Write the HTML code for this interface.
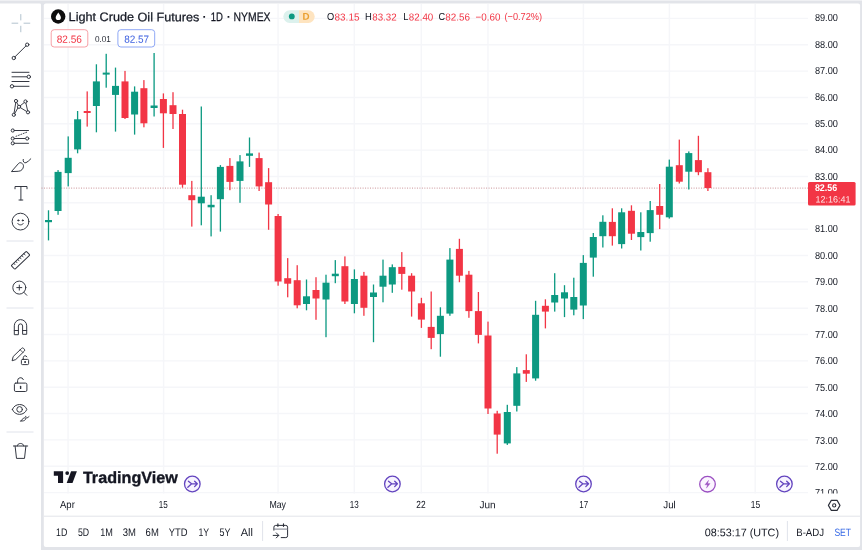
<!DOCTYPE html><html><head><meta charset="utf-8"><title>Light Crude Oil Futures</title>
<style>html,body{margin:0;padding:0;background:#e2e4e9;}body{width:862px;height:550px;overflow:hidden;}svg{display:block;}text{font-family:"Liberation Sans",sans-serif;text-rendering:geometricPrecision;}</style></head><body>
<svg width="862" height="550" viewBox="0 0 862 550">
<defs><filter id="soft" filterUnits="userSpaceOnUse" x="-10" y="-10" width="882" height="570"><feGaussianBlur stdDeviation="0.32"/></filter></defs>
<g filter="url(#soft)">
<rect x="-10" y="-10" width="882" height="570" fill="#e2e4e9"/>
<rect x="-10" y="-10" width="882" height="11" fill="#eff0f3"/><path d="M-10 3.6H39.8a1.2 1.2 0 0 1 1.2 1.2V560H-10Z" fill="#fff"/>
<rect x="43.8" y="3.6" width="816.3" height="543.3" rx="2" fill="#fff"/>
<g stroke="#f5f6f9" stroke-width="1.4">
<line x1="44" x2="808" y1="492.6" y2="492.6"/>
<line x1="44" x2="808" y1="466.2" y2="466.2"/>
<line x1="44" x2="808" y1="439.9" y2="439.9"/>
<line x1="44" x2="808" y1="413.5" y2="413.5"/>
<line x1="44" x2="808" y1="387.2" y2="387.2"/>
<line x1="44" x2="808" y1="360.9" y2="360.9"/>
<line x1="44" x2="808" y1="334.5" y2="334.5"/>
<line x1="44" x2="808" y1="308.2" y2="308.2"/>
<line x1="44" x2="808" y1="281.8" y2="281.8"/>
<line x1="44" x2="808" y1="255.5" y2="255.5"/>
<line x1="44" x2="808" y1="229.2" y2="229.2"/>
<line x1="44" x2="808" y1="202.8" y2="202.8"/>
<line x1="44" x2="808" y1="176.5" y2="176.5"/>
<line x1="44" x2="808" y1="150.1" y2="150.1"/>
<line x1="44" x2="808" y1="123.8" y2="123.8"/>
<line x1="44" x2="808" y1="97.5" y2="97.5"/>
<line x1="44" x2="808" y1="71.1" y2="71.1"/>
<line x1="44" x2="808" y1="44.8" y2="44.8"/>
<line x1="44" x2="808" y1="18.4" y2="18.4"/>
<line x1="68.1" x2="68.1" y1="4" y2="493.5"/>
<line x1="163.6" x2="163.6" y1="4" y2="493.5"/>
<line x1="278.1" x2="278.1" y1="4" y2="493.5"/>
<line x1="354.3" x2="354.3" y1="4" y2="493.5"/>
<line x1="421.3" x2="421.3" y1="4" y2="493.5"/>
<line x1="488.0" x2="488.0" y1="4" y2="493.5"/>
<line x1="583.4" x2="583.4" y1="4" y2="493.5"/>
<line x1="669.4" x2="669.4" y1="4" y2="493.5"/>
<line x1="755.2" x2="755.2" y1="4" y2="493.5"/>
</g>
<line x1="44" x2="860" y1="516.2" y2="516.2" stroke="#e2e4e9" stroke-width="1"/>
<line x1="41.5" x2="808" y1="188.1" y2="188.1" stroke="#c4868c" stroke-width="1" stroke-dasharray="1 1.47" opacity="0.9"/>
<g>
<rect x="47.85" y="210.3" width="1.3" height="30.1" fill="#089981"/>
<rect x="45.00" y="220.0" width="7" height="2.2" fill="#089981"/>
<rect x="57.41" y="170.1" width="1.3" height="44.7" fill="#089981"/>
<rect x="54.56" y="171.9" width="7" height="39.1" fill="#089981"/>
<rect x="67.55" y="136.4" width="1.3" height="50.0" fill="#089981"/>
<rect x="64.70" y="157.8" width="7" height="15.3" fill="#089981"/>
<rect x="76.95" y="111.0" width="1.3" height="42.3" fill="#089981"/>
<rect x="74.10" y="119.3" width="7" height="30.1" fill="#089981"/>
<rect x="86.55" y="91.4" width="1.3" height="35.2" fill="#f23645"/>
<rect x="83.70" y="111.0" width="7" height="2.0" fill="#f23645"/>
<rect x="95.75" y="64.3" width="1.3" height="68.0" fill="#089981"/>
<rect x="92.90" y="81.4" width="7" height="24.6" fill="#089981"/>
<rect x="105.55" y="53.8" width="1.3" height="33.9" fill="#089981"/>
<rect x="102.70" y="72.6" width="7" height="2.0" fill="#089981"/>
<rect x="114.85" y="67.6" width="1.3" height="64.0" fill="#089981"/>
<rect x="112.00" y="85.9" width="7" height="9.0" fill="#089981"/>
<rect x="124.35" y="70.9" width="1.3" height="48.1" fill="#f23645"/>
<rect x="121.50" y="81.4" width="7" height="36.6" fill="#f23645"/>
<rect x="133.95" y="86.4" width="1.3" height="48.2" fill="#089981"/>
<rect x="131.10" y="91.7" width="7" height="22.8" fill="#089981"/>
<rect x="143.25" y="80.1" width="1.3" height="47.2" fill="#f23645"/>
<rect x="140.40" y="88.2" width="7" height="35.1" fill="#f23645"/>
<rect x="153.45" y="53.0" width="1.3" height="63.5" fill="#089981"/>
<rect x="150.60" y="105.5" width="7" height="2.5" fill="#089981"/>
<rect x="162.75" y="93.4" width="1.3" height="54.5" fill="#f23645"/>
<rect x="159.90" y="99.0" width="7" height="14.3" fill="#f23645"/>
<rect x="172.35" y="92.2" width="1.3" height="36.8" fill="#f23645"/>
<rect x="169.50" y="105.2" width="7" height="8.8" fill="#f23645"/>
<rect x="181.85" y="109.7" width="1.3" height="78.0" fill="#f23645"/>
<rect x="179.00" y="114.0" width="7" height="70.7" fill="#f23645"/>
<rect x="191.15" y="180.9" width="1.3" height="45.7" fill="#f23645"/>
<rect x="188.30" y="195.2" width="7" height="5.0" fill="#f23645"/>
<rect x="200.65" y="106.5" width="1.3" height="118.8" fill="#089981"/>
<rect x="197.80" y="196.7" width="7" height="6.6" fill="#089981"/>
<rect x="210.45" y="195.2" width="1.3" height="41.2" fill="#089981"/>
<rect x="207.60" y="204.8" width="7" height="2.5" fill="#089981"/>
<rect x="219.75" y="165.1" width="1.3" height="66.5" fill="#089981"/>
<rect x="216.90" y="166.9" width="7" height="32.3" fill="#089981"/>
<rect x="229.25" y="158.1" width="1.3" height="32.1" fill="#f23645"/>
<rect x="226.40" y="165.9" width="7" height="16.0" fill="#f23645"/>
<rect x="239.35" y="155.1" width="1.3" height="47.7" fill="#089981"/>
<rect x="236.50" y="161.4" width="7" height="19.5" fill="#089981"/>
<rect x="248.85" y="137.5" width="1.3" height="29.4" fill="#089981"/>
<rect x="246.00" y="153.4" width="7" height="2.4" fill="#089981"/>
<rect x="258.45" y="152.6" width="1.3" height="38.4" fill="#f23645"/>
<rect x="255.60" y="158.1" width="7" height="28.3" fill="#f23645"/>
<rect x="267.95" y="168.1" width="1.3" height="61.7" fill="#f23645"/>
<rect x="265.10" y="182.2" width="7" height="22.3" fill="#f23645"/>
<rect x="277.45" y="214.0" width="1.3" height="71.7" fill="#f23645"/>
<rect x="274.60" y="216.0" width="7" height="65.5" fill="#f23645"/>
<rect x="287.05" y="258.1" width="1.3" height="39.2" fill="#f23645"/>
<rect x="284.20" y="278.2" width="7" height="5.5" fill="#f23645"/>
<rect x="296.55" y="265.2" width="1.3" height="43.1" fill="#f23645"/>
<rect x="293.70" y="280.2" width="7" height="25.1" fill="#f23645"/>
<rect x="305.85" y="279.5" width="1.3" height="30.8" fill="#089981"/>
<rect x="303.00" y="296.3" width="7" height="7.7" fill="#089981"/>
<rect x="315.35" y="277.2" width="1.3" height="42.6" fill="#f23645"/>
<rect x="312.50" y="290.0" width="7" height="8.5" fill="#f23645"/>
<rect x="325.35" y="274.7" width="1.3" height="62.5" fill="#089981"/>
<rect x="322.50" y="282.7" width="7" height="16.8" fill="#089981"/>
<rect x="334.65" y="260.1" width="1.3" height="23.1" fill="#089981"/>
<rect x="331.80" y="273.7" width="7" height="2.5" fill="#089981"/>
<rect x="344.25" y="256.4" width="1.3" height="47.6" fill="#f23645"/>
<rect x="341.40" y="266.2" width="7" height="35.3" fill="#f23645"/>
<rect x="353.75" y="269.4" width="1.3" height="43.9" fill="#089981"/>
<rect x="350.90" y="279.0" width="7" height="25.0" fill="#089981"/>
<rect x="363.25" y="271.9" width="1.3" height="43.9" fill="#f23645"/>
<rect x="360.40" y="275.7" width="7" height="32.1" fill="#f23645"/>
<rect x="372.85" y="284.5" width="1.3" height="57.7" fill="#089981"/>
<rect x="370.00" y="292.5" width="7" height="4.5" fill="#089981"/>
<rect x="382.35" y="259.6" width="1.3" height="42.7" fill="#089981"/>
<rect x="379.50" y="275.7" width="7" height="11.0" fill="#089981"/>
<rect x="391.65" y="264.4" width="1.3" height="28.4" fill="#089981"/>
<rect x="388.80" y="267.2" width="7" height="17.3" fill="#089981"/>
<rect x="401.15" y="252.1" width="1.3" height="37.6" fill="#f23645"/>
<rect x="398.30" y="266.9" width="7" height="7.0" fill="#f23645"/>
<rect x="410.95" y="273.2" width="1.3" height="43.4" fill="#f23645"/>
<rect x="408.10" y="275.7" width="7" height="15.8" fill="#f23645"/>
<rect x="420.75" y="297.8" width="1.3" height="30.1" fill="#f23645"/>
<rect x="417.90" y="303.3" width="7" height="16.3" fill="#f23645"/>
<rect x="430.55" y="291.5" width="1.3" height="57.7" fill="#f23645"/>
<rect x="427.70" y="326.9" width="7" height="11.0" fill="#f23645"/>
<rect x="439.75" y="307.3" width="1.3" height="49.4" fill="#089981"/>
<rect x="436.90" y="315.8" width="7" height="18.3" fill="#089981"/>
<rect x="449.25" y="248.1" width="1.3" height="67.7" fill="#089981"/>
<rect x="446.40" y="259.6" width="7" height="54.0" fill="#089981"/>
<rect x="458.75" y="238.8" width="1.3" height="43.4" fill="#f23645"/>
<rect x="455.90" y="248.9" width="7" height="26.8" fill="#f23645"/>
<rect x="468.25" y="270.9" width="1.3" height="46.9" fill="#f23645"/>
<rect x="465.40" y="274.7" width="7" height="36.4" fill="#f23645"/>
<rect x="477.75" y="292.0" width="1.3" height="51.4" fill="#f23645"/>
<rect x="474.90" y="311.1" width="7" height="23.8" fill="#f23645"/>
<rect x="487.35" y="321.6" width="1.3" height="92.4" fill="#f23645"/>
<rect x="484.50" y="335.5" width="7" height="73.0" fill="#f23645"/>
<rect x="496.55" y="410.8" width="1.3" height="42.9" fill="#f23645"/>
<rect x="493.70" y="413.5" width="7" height="21.1" fill="#f23645"/>
<rect x="506.65" y="404.8" width="1.3" height="40.1" fill="#089981"/>
<rect x="503.80" y="412.0" width="7" height="31.4" fill="#089981"/>
<rect x="516.15" y="367.1" width="1.3" height="44.4" fill="#089981"/>
<rect x="513.30" y="373.4" width="7" height="32.4" fill="#089981"/>
<rect x="525.65" y="354.3" width="1.3" height="27.6" fill="#f23645"/>
<rect x="522.80" y="370.1" width="7" height="3.6" fill="#f23645"/>
<rect x="534.95" y="300.8" width="1.3" height="79.9" fill="#089981"/>
<rect x="532.10" y="314.8" width="7" height="63.6" fill="#089981"/>
<rect x="544.75" y="299.3" width="1.3" height="29.1" fill="#f23645"/>
<rect x="541.90" y="305.8" width="7" height="5.8" fill="#f23645"/>
<rect x="554.05" y="273.2" width="1.3" height="38.4" fill="#089981"/>
<rect x="551.20" y="295.0" width="7" height="7.5" fill="#089981"/>
<rect x="563.85" y="285.2" width="1.3" height="31.9" fill="#089981"/>
<rect x="561.00" y="292.3" width="7" height="6.2" fill="#089981"/>
<rect x="573.15" y="277.7" width="1.3" height="37.6" fill="#089981"/>
<rect x="570.30" y="297.0" width="7" height="12.6" fill="#089981"/>
<rect x="582.65" y="255.1" width="1.3" height="64.0" fill="#089981"/>
<rect x="579.80" y="262.9" width="7" height="42.6" fill="#089981"/>
<rect x="592.65" y="233.0" width="1.3" height="43.7" fill="#089981"/>
<rect x="589.80" y="237.0" width="7" height="20.6" fill="#089981"/>
<rect x="602.20" y="215.3" width="1.3" height="32.2" fill="#089981"/>
<rect x="599.35" y="221.8" width="7" height="14.4" fill="#089981"/>
<rect x="611.70" y="208.3" width="1.3" height="37.3" fill="#f23645"/>
<rect x="608.85" y="221.9" width="7" height="14.3" fill="#f23645"/>
<rect x="621.00" y="208.3" width="1.3" height="40.2" fill="#089981"/>
<rect x="618.15" y="212.3" width="7" height="31.8" fill="#089981"/>
<rect x="630.80" y="205.3" width="1.3" height="34.7" fill="#f23645"/>
<rect x="627.95" y="210.8" width="7" height="22.9" fill="#f23645"/>
<rect x="640.15" y="212.3" width="1.3" height="38.2" fill="#089981"/>
<rect x="637.30" y="232.0" width="7" height="5.1" fill="#089981"/>
<rect x="649.55" y="201.0" width="1.3" height="40.7" fill="#089981"/>
<rect x="646.70" y="210.1" width="7" height="23.0" fill="#089981"/>
<rect x="659.05" y="184.0" width="1.3" height="45.1" fill="#f23645"/>
<rect x="656.20" y="206.0" width="7" height="8.8" fill="#f23645"/>
<rect x="668.65" y="159.6" width="1.3" height="59.0" fill="#089981"/>
<rect x="665.80" y="166.7" width="7" height="50.6" fill="#089981"/>
<rect x="678.65" y="139.6" width="1.3" height="43.9" fill="#f23645"/>
<rect x="675.80" y="165.2" width="7" height="16.5" fill="#f23645"/>
<rect x="688.15" y="151.4" width="1.3" height="38.1" fill="#089981"/>
<rect x="685.30" y="153.1" width="7" height="18.6" fill="#089981"/>
<rect x="697.75" y="135.8" width="1.3" height="39.4" fill="#f23645"/>
<rect x="694.90" y="160.1" width="7" height="12.1" fill="#f23645"/>
<rect x="707.25" y="168.2" width="1.3" height="22.8" fill="#f23645"/>
<rect x="704.40" y="172.2" width="7" height="15.8" fill="#f23645"/>
</g>
<circle cx="58.2" cy="16.5" r="7.2" fill="#0c0d10"/>
<path d="M58.3 12.4c1.4 2 2.6 3.5 2.6 5.1a2.6 2.6 0 0 1-5.2 0c0-1.6 1.2-3.1 2.6-5.1Z" fill="#fff"/>
<text x="68.6" y="21.1" transform="rotate(0.03 68.6 21.1)" font-size="12.3" fill="#131722" textLength="130.8" lengthAdjust="spacingAndGlyphs" stroke="#131722" stroke-width="0.25">Light Crude Oil Futures</text>
<text x="202.6" y="21.1" transform="rotate(0.03 202.6 21.1)" font-size="12.3" fill="#131722" font-weight="bold" >·</text>
<text x="210.7" y="21.1" transform="rotate(0.03 210.7 21.1)" font-size="12.3" fill="#131722" textLength="12.2" lengthAdjust="spacingAndGlyphs" stroke="#131722" stroke-width="0.25">1D</text>
<text x="226.7" y="21.1" transform="rotate(0.03 226.7 21.1)" font-size="12.3" fill="#131722" font-weight="bold" >·</text>
<text x="233.6" y="21.1" transform="rotate(0.03 233.6 21.1)" font-size="12.3" fill="#131722" textLength="36.9" lengthAdjust="spacingAndGlyphs" stroke="#131722" stroke-width="0.25">NYMEX</text>
<path d="M289.6 10.3H299V22.9H289.6a6.3 6.3 0 0 1 0-12.6Z" fill="#dcf1ed"/>
<path d="M299 10.3H308.4a6.3 6.3 0 0 1 0 12.6H299Z" fill="#fee4c0"/>
<circle cx="291.8" cy="16.4" r="2.9" fill="#089981"/>
<text x="306.1" y="19.8" transform="rotate(0.03 306.1 19.8)" font-size="9.8" fill="#eaa031" font-weight="bold" text-anchor="middle" >D</text>
<text x="327.0" y="20.4" transform="rotate(0.03 327.0 20.4)" font-size="10.2" fill="#131722" textLength="7.2" lengthAdjust="spacingAndGlyphs" >O</text>
<text x="334.5" y="20.4" transform="rotate(0.03 334.5 20.4)" font-size="10.2" fill="#f23645" textLength="25.0" lengthAdjust="spacingAndGlyphs" >83.15</text>
<text x="365.1" y="20.4" transform="rotate(0.03 365.1 20.4)" font-size="10.2" fill="#131722" textLength="6.8" lengthAdjust="spacingAndGlyphs" >H</text>
<text x="372.2" y="20.4" transform="rotate(0.03 372.2 20.4)" font-size="10.2" fill="#f23645" textLength="24.5" lengthAdjust="spacingAndGlyphs" >83.32</text>
<text x="403.3" y="20.4" transform="rotate(0.03 403.3 20.4)" font-size="10.2" fill="#131722" textLength="5.2" lengthAdjust="spacingAndGlyphs" >L</text>
<text x="408.8" y="20.4" transform="rotate(0.03 408.8 20.4)" font-size="10.2" fill="#f23645" textLength="24.5" lengthAdjust="spacingAndGlyphs" >82.40</text>
<text x="438.4" y="20.4" transform="rotate(0.03 438.4 20.4)" font-size="10.2" fill="#131722" textLength="6.6" lengthAdjust="spacingAndGlyphs" >C</text>
<text x="445.3" y="20.4" transform="rotate(0.03 445.3 20.4)" font-size="10.2" fill="#f23645" textLength="24.7" lengthAdjust="spacingAndGlyphs" >82.56</text>
<text x="475.5" y="20.4" transform="rotate(0.03 475.5 20.4)" font-size="10.2" fill="#f23645" textLength="24.9" lengthAdjust="spacingAndGlyphs" >−0.60</text>
<text x="504.5" y="20.4" transform="rotate(0.03 504.5 20.4)" font-size="10.2" fill="#f23645" textLength="37.6" lengthAdjust="spacingAndGlyphs" >(−0.72%)</text>
<rect x="51.2" y="29.7" width="36.6" height="17.3" rx="3" fill="#fff" stroke="#f7a1a7" stroke-width="1"/>
<text x="56.7" y="42.7" transform="rotate(0.03 56.7 42.7)" font-size="10.4" fill="#f23645" textLength="25.2" lengthAdjust="spacingAndGlyphs" >82.56</text>
<text x="94.9" y="42.1" transform="rotate(0.03 94.9 42.1)" font-size="8.6" fill="#2a2e39" textLength="16.0" lengthAdjust="spacingAndGlyphs" >0.01</text>
<rect x="117.9" y="29.7" width="36.8" height="17.3" rx="3" fill="#fff" stroke="#8fa8f5" stroke-width="1"/>
<text x="124.2" y="42.7" transform="rotate(0.03 124.2 42.7)" font-size="10.4" fill="#3f62e0" textLength="25.0" lengthAdjust="spacingAndGlyphs" >82.57</text>
<text x="814.9" y="469.9" transform="rotate(0.03 814.9 469.9)" font-size="10.2" fill="#131722" textLength="23.0" lengthAdjust="spacingAndGlyphs" >72.00</text>
<text x="814.9" y="443.5" transform="rotate(0.03 814.9 443.5)" font-size="10.2" fill="#131722" textLength="23.0" lengthAdjust="spacingAndGlyphs" >73.00</text>
<text x="814.9" y="417.2" transform="rotate(0.03 814.9 417.2)" font-size="10.2" fill="#131722" textLength="23.0" lengthAdjust="spacingAndGlyphs" >74.00</text>
<text x="814.9" y="390.8" transform="rotate(0.03 814.9 390.8)" font-size="10.2" fill="#131722" textLength="23.0" lengthAdjust="spacingAndGlyphs" >75.00</text>
<text x="814.9" y="364.4" transform="rotate(0.03 814.9 364.4)" font-size="10.2" fill="#131722" textLength="23.0" lengthAdjust="spacingAndGlyphs" >76.00</text>
<text x="814.9" y="338.0" transform="rotate(0.03 814.9 338.0)" font-size="10.2" fill="#131722" textLength="23.0" lengthAdjust="spacingAndGlyphs" >77.00</text>
<text x="814.9" y="311.6" transform="rotate(0.03 814.9 311.6)" font-size="10.2" fill="#131722" textLength="23.0" lengthAdjust="spacingAndGlyphs" >78.00</text>
<text x="814.9" y="285.2" transform="rotate(0.03 814.9 285.2)" font-size="10.2" fill="#131722" textLength="23.0" lengthAdjust="spacingAndGlyphs" >79.00</text>
<text x="814.9" y="258.8" transform="rotate(0.03 814.9 258.8)" font-size="10.2" fill="#131722" textLength="23.0" lengthAdjust="spacingAndGlyphs" >80.00</text>
<text x="814.9" y="232.4" transform="rotate(0.03 814.9 232.4)" font-size="10.2" fill="#131722" textLength="23.0" lengthAdjust="spacingAndGlyphs" >81.00</text>
<text x="814.9" y="179.6" transform="rotate(0.03 814.9 179.6)" font-size="10.2" fill="#131722" textLength="23.0" lengthAdjust="spacingAndGlyphs" >83.00</text>
<text x="814.9" y="153.2" transform="rotate(0.03 814.9 153.2)" font-size="10.2" fill="#131722" textLength="23.0" lengthAdjust="spacingAndGlyphs" >84.00</text>
<text x="814.9" y="126.9" transform="rotate(0.03 814.9 126.9)" font-size="10.2" fill="#131722" textLength="23.0" lengthAdjust="spacingAndGlyphs" >85.00</text>
<text x="814.9" y="100.5" transform="rotate(0.03 814.9 100.5)" font-size="10.2" fill="#131722" textLength="23.0" lengthAdjust="spacingAndGlyphs" >86.00</text>
<text x="814.9" y="74.1" transform="rotate(0.03 814.9 74.1)" font-size="10.2" fill="#131722" textLength="23.0" lengthAdjust="spacingAndGlyphs" >87.00</text>
<text x="814.9" y="47.7" transform="rotate(0.03 814.9 47.7)" font-size="10.2" fill="#131722" textLength="23.0" lengthAdjust="spacingAndGlyphs" >88.00</text>
<text x="814.9" y="21.3" transform="rotate(0.03 814.9 21.3)" font-size="10.2" fill="#131722" textLength="23.0" lengthAdjust="spacingAndGlyphs" >89.00</text>
<clipPath id="pc"><rect x="808" y="0" width="52" height="493.5"/></clipPath>
<g clip-path="url(#pc)">
<text x="814.9" y="496.3" transform="rotate(0.03 814.9 496.3)" font-size="10.2" fill="#131722" textLength="23.0" lengthAdjust="spacingAndGlyphs" >71.00</text>
</g>
<rect x="808" y="182" width="47.6" height="23.6" rx="1.5" fill="#f23645"/>
<text x="814.9" y="191.2" transform="rotate(0.03 814.9 191.2)" font-size="9.8" fill="#fff" textLength="22.3" lengthAdjust="spacingAndGlyphs" font-weight="bold" >82.56</text>
<text x="815.5" y="202.5" transform="rotate(0.03 815.5 202.5)" font-size="9.2" fill="#ffe3e5" textLength="34.9" lengthAdjust="spacingAndGlyphs" >12:16:41</text>
<text x="60.0" y="508.2" transform="rotate(0.03 60.0 508.2)" font-size="10.3" fill="#131722" textLength="14.8" lengthAdjust="spacingAndGlyphs" >Apr</text>
<text x="158.8" y="508.2" transform="rotate(0.03 158.8 508.2)" font-size="10.3" fill="#131722" textLength="9.0" lengthAdjust="spacingAndGlyphs" >15</text>
<text x="269.4" y="508.2" transform="rotate(0.03 269.4 508.2)" font-size="10.3" fill="#131722" textLength="16.6" lengthAdjust="spacingAndGlyphs" >May</text>
<text x="349.8" y="508.2" transform="rotate(0.03 349.8 508.2)" font-size="10.3" fill="#131722" textLength="9.0" lengthAdjust="spacingAndGlyphs" >13</text>
<text x="416.3" y="508.2" transform="rotate(0.03 416.3 508.2)" font-size="10.3" fill="#131722" textLength="9.3" lengthAdjust="spacingAndGlyphs" >22</text>
<text x="479.5" y="508.2" transform="rotate(0.03 479.5 508.2)" font-size="10.3" fill="#131722" textLength="16.1" lengthAdjust="spacingAndGlyphs" >Jun</text>
<text x="579.2" y="508.2" transform="rotate(0.03 579.2 508.2)" font-size="10.3" fill="#131722" textLength="8.9" lengthAdjust="spacingAndGlyphs" >17</text>
<text x="663.3" y="508.2" transform="rotate(0.03 663.3 508.2)" font-size="10.3" fill="#131722" textLength="12.5" lengthAdjust="spacingAndGlyphs" >Jul</text>
<text x="750.8" y="508.2" transform="rotate(0.03 750.8 508.2)" font-size="10.3" fill="#131722" textLength="9.4" lengthAdjust="spacingAndGlyphs" >15</text>
<path d="M831.3 500.4h5.8l2.9 5-2.9 5h-5.8l-2.9-5Z" fill="none" stroke="#2a2e39" stroke-width="1.1" stroke-linejoin="round"/><circle cx="834.2" cy="505.4" r="1.6" fill="none" stroke="#2a2e39" stroke-width="1.1"/>
<g transform="translate(192.3 484.0)" fill="none" stroke="#6344bf" stroke-width="1.3" stroke-linecap="round" stroke-linejoin="round"><circle r="7.8" fill="#f7f3ff"/><path d="M-3.9 -2.8L-0.7 -0.2M-4.5 3.3L-0.7 -0.2H4.6M2.3 -2.8L5 -0.2L2.3 2.6"/></g>
<g transform="translate(392.4 484.0)" fill="none" stroke="#6344bf" stroke-width="1.3" stroke-linecap="round" stroke-linejoin="round"><circle r="7.8" fill="#f7f3ff"/><path d="M-3.9 -2.8L-0.7 -0.2M-4.5 3.3L-0.7 -0.2H4.6M2.3 -2.8L5 -0.2L2.3 2.6"/></g>
<g transform="translate(583.5 484.0)" fill="none" stroke="#6344bf" stroke-width="1.3" stroke-linecap="round" stroke-linejoin="round"><circle r="7.8" fill="#f7f3ff"/><path d="M-3.9 -2.8L-0.7 -0.2M-4.5 3.3L-0.7 -0.2H4.6M2.3 -2.8L5 -0.2L2.3 2.6"/></g>
<g transform="translate(707.5 484.2)" stroke="#9b50c2" stroke-width="1.3" stroke-linejoin="round"><circle r="7.8" fill="#fbf4ff"/><path d="M1.1 -4L-2.6 0.6H-0.1L-1.1 4L2.6 -0.6H0.1Z" fill="#9b50c2" stroke-width="0.3"/></g>
<g transform="translate(784.4 484.0)" fill="none" stroke="#6344bf" stroke-width="1.3" stroke-linecap="round" stroke-linejoin="round"><circle r="7.8" fill="#f7f3ff"/><path d="M-3.9 -2.8L-0.7 -0.2M-4.5 3.3L-0.7 -0.2H4.6M2.3 -2.8L5 -0.2L2.3 2.6"/></g>
<g fill="#131722"><path d="M53.8 471.3H63.1V483H58V475.7H53.8Z"/><circle cx="67.2" cy="473.1" r="1.9"/><path d="M71.1 471.3H76.9L72.5 483H66.7Z"/></g>
<text x="82.9" y="483.0" transform="rotate(0.03 82.9 483.0)" font-size="16.2" fill="#131722" textLength="94.9" lengthAdjust="spacingAndGlyphs" font-weight="bold" stroke="#131722" stroke-width="0.35">TradingView</text>
<text x="56.0" y="536.1" transform="rotate(0.03 56.0 536.1)" font-size="11.1" fill="#131722" textLength="11.3" lengthAdjust="spacingAndGlyphs" >1D</text>
<text x="78.0" y="536.1" transform="rotate(0.03 78.0 536.1)" font-size="11.1" fill="#131722" textLength="11.2" lengthAdjust="spacingAndGlyphs" >5D</text>
<text x="100.2" y="536.1" transform="rotate(0.03 100.2 536.1)" font-size="11.1" fill="#131722" textLength="12.7" lengthAdjust="spacingAndGlyphs" >1M</text>
<text x="122.7" y="536.1" transform="rotate(0.03 122.7 536.1)" font-size="11.1" fill="#131722" textLength="13.2" lengthAdjust="spacingAndGlyphs" >3M</text>
<text x="145.6" y="536.1" transform="rotate(0.03 145.6 536.1)" font-size="11.1" fill="#131722" textLength="13.2" lengthAdjust="spacingAndGlyphs" >6M</text>
<text x="168.8" y="536.1" transform="rotate(0.03 168.8 536.1)" font-size="11.1" fill="#131722" textLength="18.8" lengthAdjust="spacingAndGlyphs" >YTD</text>
<text x="198.5" y="536.1" transform="rotate(0.03 198.5 536.1)" font-size="11.1" fill="#131722" textLength="10.7" lengthAdjust="spacingAndGlyphs" >1Y</text>
<text x="219.6" y="536.1" transform="rotate(0.03 219.6 536.1)" font-size="11.1" fill="#131722" textLength="10.9" lengthAdjust="spacingAndGlyphs" >5Y</text>
<text x="240.8" y="536.1" transform="rotate(0.03 240.8 536.1)" font-size="11.1" fill="#131722" textLength="12.2" lengthAdjust="spacingAndGlyphs" >All</text>
<line x1="262.6" x2="262.6" y1="521" y2="541" stroke="#e0e3eb"/>
<g fill="none" stroke="#2a2e39" stroke-width="1" stroke-linecap="round" stroke-linejoin="round"><path d="M273.9 530.2V527.2a1.8 1.8 0 0 1 1.8-1.8H285.8a1.8 1.8 0 0 1 1.8 1.8V535.8a1.8 1.8 0 0 1-1.8 1.8H281.2"/><path d="M277.9 523.9V526.3M283.5 523.9V526.3" stroke-width="1.2"/><path d="M274 529.1H287.5" stroke="#7b7f8a"/><path d="M273.2 535.4H278.6M276.3 532.9L278.8 535.4L276.3 537.9"/></g>
<text x="704.7" y="536.2" transform="rotate(0.03 704.7 536.2)" font-size="11" fill="#131722" textLength="74.3" lengthAdjust="spacingAndGlyphs" >08:53:17 (UTC)</text>
<line x1="787.4" x2="787.4" y1="521" y2="541" stroke="#e0e3eb"/>
<text x="796.2" y="536.2" transform="rotate(0.03 796.2 536.2)" font-size="10.6" fill="#131722" textLength="27.9" lengthAdjust="spacingAndGlyphs" >B-ADJ</text>
<text x="834.4" y="536.2" transform="rotate(0.03 834.4 536.2)" font-size="10.6" fill="#3568e6" textLength="16.6" lengthAdjust="spacingAndGlyphs" >SET</text>
<g fill="none" stroke="#30343e" stroke-width="0.98" stroke-linecap="round" stroke-linejoin="round">
<path d="M12 23.2H17.8M24 23.2H29.8M20.8 14.5V20M20.8 26.2V31.8" stroke="#a9bcc8" stroke-width="0.9"/>
<circle cx="27.2" cy="44.7" r="1.7"/><circle cx="13.8" cy="58" r="1.7"/><path d="M15 56.8L26 45.9"/>
<path d="M12 72.3H29M12 76.8H27.1M12 81.5H29M13.7 86.3H29"/><circle cx="28.8" cy="76.8" r="1.7" fill="#fff"/><circle cx="12" cy="86.3" r="1.7" fill="#fff"/>
<path d="M13.8 114.8L16 101L19 106.8L25.5 101.5L28 112.3L19 106.8Z" stroke-width="0.95"/>
<circle cx="16" cy="101" r="1.6" fill="#fff"/>
<circle cx="25.5" cy="101.5" r="1.6" fill="#fff"/>
<circle cx="19" cy="106.8" r="1.6" fill="#fff"/>
<circle cx="28" cy="112.3" r="1.6" fill="#fff"/>
<circle cx="13.8" cy="114.8" r="1.6" fill="#fff"/>
<path d="M14.5 130.5H28.5M14.5 138.5H25.5M14.5 143.3H28.5"/><path d="M16 136.3L27.3 132" stroke-dasharray="1 1.6" stroke-width="0.9"/>
<circle cx="12.8" cy="130.5" r="1.6" fill="#fff"/>
<circle cx="12.8" cy="138.5" r="1.6" fill="#fff"/>
<circle cx="27.2" cy="138.5" r="1.6" fill="#fff"/>
<circle cx="12.8" cy="143.3" r="1.6" fill="#fff"/>
<path d="M11.7 171.3L18.6 163.4C20.3 161.6 23.6 163.6 23.5 166.2C23.4 168.8 21.3 171.3 18.6 171.3Z"/><path d="M23.2 159.4C22.6 161.5 24.3 163.4 26 162.7C27.8 161.8 29.3 160.3 30.8 158.8"/>
<path d="M15 188.8V186.5H27V188.8M20.9 186.5V200M19 200H22.8"/>
<circle cx="20.5" cy="221.6" r="8.4"/><path d="M17.8 223.6C18.8 225.4 22.2 225.4 23.2 223.6"/><circle cx="18.3" cy="220.4" r="0.6" fill="#30343e"/><circle cx="22.8" cy="220.4" r="0.6" fill="#30343e"/>
<g transform="translate(20.5 260.3) rotate(-43.5)"><rect x="-10.4" y="-2.6" width="20.8" height="5.2" rx="0.8"/><path d="M-7 -2.6V-0.6M-4.2 -2.6V-0.6M-1.4 -2.6V-0.6M1.4 -2.6V-0.6M4.2 -2.6V-0.6M7 -2.6V-0.6" stroke-width="0.8"/></g>
<circle cx="19.3" cy="287.6" r="6.5"/><path d="M16.8 287.6H21.8M19.3 285.1V290.1M24 292.4L26.8 295.3"/>
<path d="M14.3 334.3V325.8A6.2 6.2 0 0 1 26.7 325.8V334.3H22.6V326A2.1 2.1 0 0 0 18.4 326V334.3Z"/><path d="M14.3 330.5H18.4M22.6 330.5H26.7"/>
<path d="M12.2 360.4L13.2 356.5L21.6 348.4A1.4 1.4 0 0 1 23.6 348.4L24.3 349.2A1.4 1.4 0 0 1 24.3 351.1L16 359.3Z"/><path d="M20.2 349.8L22.9 352.5" stroke-width="0.8"/><rect x="21.4" y="359.4" width="7.2" height="5.2" rx="1"/><path d="M23.3 359.4V357.6A1.9 1.9 0 0 1 26.9 356.8"/><circle cx="25" cy="362" r="0.5" fill="#30343e"/>
<rect x="14.4" y="383.1" width="12.5" height="8.4" rx="1.4"/><path d="M17.6 383V380.6A3 3 0 0 1 23.4 379.6"/><path d="M20.6 386.4V388.4" stroke-width="1.4"/>
<path d="M12.4 409.4C13.4 406.5 16.3 404.5 19.6 404.5C22.9 404.5 25.8 406.5 26.8 409.4C25.8 412.3 22.9 414.4 19.6 414.4C16.3 414.4 13.4 412.3 12.4 409.4Z"/><circle cx="19.6" cy="409.4" r="2.8"/><path d="M20.8 421L23.6 418C24.6 417.2 26 418.4 25.4 419.6C24.6 420.8 22.6 421.2 20.8 421ZM25.7 416.3C25.4 417.6 26.3 418.4 27.1 417.9C27.8 417.5 28.4 417.1 29 416.6" stroke-width="0.95"/>
<path d="M13.4 446H27.7M17.2 446C17.2 442.5 23.8 442.5 23.8 446M15.1 446L16.5 458.4H24.5L25.9 446"/>
</g>
<line x1="6.5" x2="33.5" y1="241" y2="241" stroke="#e0e3eb" stroke-width="1"/>
<line x1="6.5" x2="33.5" y1="308" y2="308" stroke="#e0e3eb" stroke-width="1"/>
<line x1="6.5" x2="33.5" y1="432" y2="432" stroke="#e0e3eb" stroke-width="1"/>
</g></svg></body></html>
